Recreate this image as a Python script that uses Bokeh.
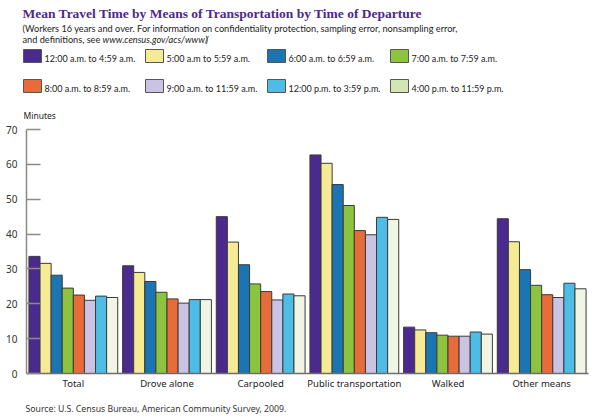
from bokeh.plotting import figure
from bokeh.models import FactorRange, Range1d, ColumnDataSource, Plot
from bokeh.transform import dodge
from bokeh.layouts import column
from bokeh.core.properties import value
from bokeh.embed import file_html
from bokeh.resources import INLINE

# ---------------- data ----------------
title_text = "Mean Travel Time by Means of Transportation by Time of Departure"
subtitle_lines = [
    "(Workers 16 years and over. For information on confidentiality protection, sampling error, nonsampling error,",
    "and definitions, see",
]
subtitle_url = "www.census.gov/acs/www/"
source_text = "Source:  U.S. Census Bureau, American Community Survey, 2009."
y_axis_title = "Minutes"

categories = ["Total", "Drove alone", "Carpooled", "Public transportation", "Walked", "Other means"]
departure_times = [
    "12:00 a.m. to 4:59 a.m.",
    "5:00 a.m to 5:59 a.m.",
    "6:00 a.m. to 6:59 a.m.",
    "7:00 a.m. to 7:59 a.m.",
    "8:00 a.m. to 8:59 a.m.",
    "9:00 a.m. to 11:59 a.m.",
    "12:00 p.m. to 3:59 p.m.",
    "4:00 p.m. to 11:59 p.m.",
]
t_0000_0459 = [33.6, 30.9, 45.0, 62.7, 13.3, 44.4]
t_0500_0559 = [31.6, 29.0, 37.7, 60.3, 12.5, 37.8]
t_0600_0659 = [28.2, 26.4, 31.2, 54.2, 11.7, 29.8]
t_0700_0759 = [24.5, 23.3, 25.7, 48.2, 11.0, 25.3]
t_0800_0859 = [22.5, 21.4, 23.5, 41.0, 10.7, 22.6]
t_0900_1159 = [21.0, 20.2, 21.1, 39.8, 10.7, 21.8]
t_1200_1559 = [22.2, 21.2, 22.8, 44.8, 11.9, 25.9]
t_1600_2359 = [21.8, 21.2, 22.3, 44.2, 11.3, 24.3]
series = [t_0000_0459, t_0500_0559, t_0600_0659, t_0700_0759,
          t_0800_0859, t_0900_1159, t_1200_1559, t_1600_2359]
y_ticks = [0, 10, 20, 30, 40, 50, 60, 70]

# ---------------- style ----------------
bar_colors = ["#4A2A8F", "#F6EB95", "#1B75B3", "#8CC43F",
              "#E86C39", "#CBC3E3", "#4DBDE6", "#F0F5E4"]
legend_colors = ["#4A2A8F", "#F6EB95", "#1B75B3", "#8CC43F",
                 "#E86C39", "#CBC3E3", "#4DBDE6", "#D2E6B5"]
SANS = "Noto Sans"
NARROW = "Lato"
W = 600
BL, BR = 26, 12
HEADER_H, CHART_H, FOOTER_H = 120, 281, 18
HAS_FRAME_ALIGN = "frame_align" in Plot.properties()


def blank(h):
    f = figure(width=W, height=h, x_range=Range1d(0, W), y_range=Range1d(h, 0),
               output_backend="svg", toolbar_location=None,
               x_axis_location=None, y_axis_location=None, min_border=0)
    if HAS_FRAME_ALIGN:
        f.frame_align = False
    f.grid.visible = False
    f.outline_line_color = None
    return f


# ---------------- header ----------------
header = blank(HEADER_H)
header.text(x=[22], y=[13], text=[title_text], text_font=value("Liberation Serif"),
            text_font_style="bold", text_font_size="13.5px", text_color="#4B2A8C",
            text_baseline="alphabetic")
header.text(x=[22], y=[28], text=[subtitle_lines[0]], text_font=value(NARROW),
            text_font_size="9.2px", text_color="#222222", text_baseline="alphabetic")
header.text(x=[22], y=[39], text=[subtitle_lines[1]], text_font=value(NARROW),
            text_font_size="9.2px", text_color="#222222", text_baseline="alphabetic")
header.text(x=[102], y=[39], text=[subtitle_url], text_font=value(NARROW),
            text_font_style="italic", text_font_size="9.2px", text_color="#222222",
            text_baseline="alphabetic")
header.text(x=[205], y=[39], text=[")"], text_font=value(NARROW),
            text_font_size="9.2px", text_color="#222222", text_baseline="alphabetic")

col_x = [23, 145, 267, 390]
row_y = [49, 79]
lx, ly, lt, lc = [], [], [], []
for i, name in enumerate(departure_times):
    r, c = divmod(i, 4)
    lx.append(col_x[c])
    ly.append(row_y[r])
    lt.append(name)
    lc.append(legend_colors[i])
header.quad(left=lx, right=[x + 18 for x in lx], top=ly, bottom=[y + 13 for y in ly],
            fill_color=lc, line_color="#555555", line_width=1)
header.text(x=[x + 21 for x in lx], y=[y + 9 for y in ly], text=lt,
            text_font=value(NARROW), text_font_size="9px", text_color="#222222",
            text_baseline="alphabetic")
header.text(x=[23], y=[115], text=[y_axis_title], text_font=value(SANS),
            text_font_size="8.5px", text_color="#222222", text_baseline="alphabetic")

# ---------------- chart ----------------
p = figure(width=W, height=CHART_H, x_range=FactorRange(*categories, range_padding=0),
           y_range=Range1d(0, 70), output_backend="svg", toolbar_location=None,
           min_border_left=BL, min_border_right=BR, min_border_top=9,
           min_border_bottom=28)
if HAS_FRAME_ALIGN:
    p.frame_align = False
p.grid.visible = False
p.outline_line_color = None

bar_w = 0.1185
for i, vals in enumerate(series):
    src = ColumnDataSource(dict(cat=categories, val=vals))
    p.vbar(x=dodge("cat", (i - 3.5) * bar_w, range=p.x_range), top="val", bottom=0,
           width=bar_w, source=src, fill_color=bar_colors[i],
           line_color="#3a3a3a", line_width=1)

p.yaxis.ticker = y_ticks
p.yaxis.major_tick_in = 14
p.yaxis.major_tick_out = 0
p.yaxis.minor_tick_line_color = None
p.yaxis.axis_line_color = "#8a8a8a"
p.yaxis.axis_line_width = 1.5
p.yaxis.major_tick_line_color = "#8a8a8a"
p.yaxis.major_tick_line_width = 1.5
p.yaxis.major_label_standoff = 9
p.yaxis.major_label_text_font = SANS
p.yaxis.major_label_text_font_size = "10px"
p.yaxis.major_label_text_color = "#333333"

p.xaxis.major_tick_line_color = None
p.xaxis.major_tick_out = 0
p.xaxis.major_tick_in = 0
p.xaxis.minor_tick_line_color = None
p.xaxis.axis_line_color = "#6d6d6d"
p.xaxis.axis_line_width = 1.5
p.xaxis.major_label_standoff = 3
p.xaxis.major_label_text_font = SANS
p.xaxis.major_label_text_font_size = "9.5px"
p.xaxis.major_label_text_color = "#222222"

# ---------------- footer ----------------
footer = blank(FOOTER_H)
footer.text(x=[25], y=[7], text=[source_text], text_font=value(SANS),
            text_font_size="8.7px", text_color="#333333", text_baseline="alphabetic")

layout = column(header, p, footer, spacing=0)
open("out.html", "w").write(file_html(layout, INLINE))
